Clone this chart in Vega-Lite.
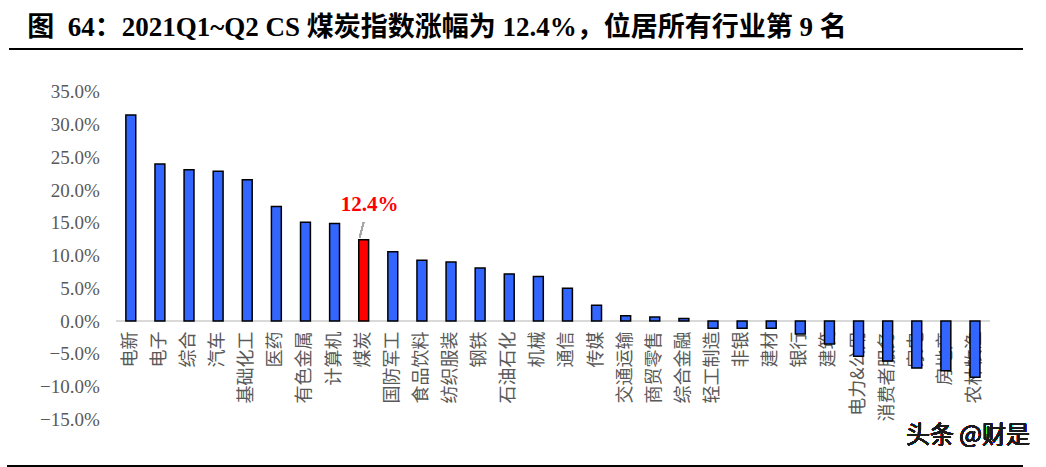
{
  "$schema": "https://vega.github.io/schema/vega-lite/v6.json",
  "width": 873.3,
  "height": 417,
  "autosize": "none",
  "padding": {"left": 116.25, "top": 49, "right": 56.45, "bottom": 1},
  "background": "white",
  "config": {
    "view": {"stroke": null},
    "axis": {"grid": false, "ticks": false, "domain": false}
  },
  "title": {
    "text": "图\u00a0\u00a064：2021Q1~Q2 CS 煤炭指数涨幅为 12.4%，位居所有行业第 9 名",
    "anchor": "start",
    "frame": "group",
    "dx": -89,
    "offset": -15,
    "baseline": "alphabetic",
    "font": "Liberation Serif, Noto Sans CJK SC",
    "fontSize": 27,
    "fontWeight": "bold",
    "color": "#000000"
  },
  "data": {
    "values": [
      {"industry": "电新", "value": 31.5},
      {"industry": "电子", "value": 24.0},
      {"industry": "综合", "value": 23.1},
      {"industry": "汽车", "value": 22.9},
      {"industry": "基础化工", "value": 21.6},
      {"industry": "医药", "value": 17.5},
      {"industry": "有色金属", "value": 15.1},
      {"industry": "计算机", "value": 14.9},
      {"industry": "煤炭", "value": 12.4},
      {"industry": "国防军工", "value": 10.6},
      {"industry": "食品饮料", "value": 9.3},
      {"industry": "纺织服装", "value": 9.0},
      {"industry": "钢铁", "value": 8.1},
      {"industry": "石油石化", "value": 7.2},
      {"industry": "机械", "value": 6.8},
      {"industry": "通信", "value": 5.0},
      {"industry": "传媒", "value": 2.4},
      {"industry": "交通运输", "value": 0.8},
      {"industry": "商贸零售", "value": 0.6},
      {"industry": "综合金融", "value": 0.4},
      {"industry": "轻工制造", "value": -1.1},
      {"industry": "非银", "value": -1.1},
      {"industry": "建材", "value": -1.1},
      {"industry": "银行", "value": -2.0},
      {"industry": "建筑", "value": -3.5},
      {"industry": "电力&公用", "value": -5.4},
      {"industry": "消费者服务", "value": -6.1},
      {"industry": "家电", "value": -7.2},
      {"industry": "房地产", "value": -7.6},
      {"industry": "农林牧渔", "value": -8.6}
    ]
  },
  "encoding": {
    "x": {
      "field": "industry",
      "type": "nominal",
      "sort": null,
      "scale": {
        "domain": ["电新", "电子", "综合", "汽车", "基础化工", "医药", "有色金属", "计算机", "煤炭", "国防军工", "食品饮料", "纺织服装", "钢铁", "石油石化", "机械", "通信", "传媒", "交通运输", "商贸零售", "综合金融", "轻工制造", "非银", "建材", "银行", "建筑", "电力&公用", "消费者服务", "家电", "房地产", "农林牧渔"],
        "paddingInner": 0.66,
        "paddingOuter": 0.33,
        "align": 0.5
      },
      "axis": {
        "title": null,
        "labelAngle": -90,
        "labelPadding": 10,
        "offset": -145,
        "labelFont": "Noto Sans CJK SC",
        "labelFontSize": 18,
        "labelColor": "#595959"
      }
    },
    "y": {
      "field": "value",
      "type": "quantitative",
      "scale": {"domain": [-22.16, 41.57], "nice": false, "zero": false},
      "axis": {
        "title": null,
        "values": [-15, -10, -5, 0, 5, 10, 15, 20, 25, 30, 35],
        "labelExpr": "format(datum.value, '.1f') + '%'",
        "labelPadding": 17,
        "labelFont": "Liberation Serif",
        "labelFontSize": 19,
        "labelColor": "#595959"
      }
    }
  },
  "layer": [
    {
      "mark": {"type": "rule", "color": "#D9D9D9", "strokeWidth": 1.5},
      "encoding": {
        "x": {"datum": "电新", "bandPosition": -0.92},
        "x2": {"datum": "农林牧渔", "bandPosition": 2.02},
        "y": {"datum": 0},
        "y2": null
      }
    },
    {
      "mark": {"type": "bar", "stroke": "#000000", "strokeWidth": 1.5},
      "encoding": {
        "color": {
          "condition": {"test": "datum.industry === '煤炭'", "value": "#FF0000"},
          "value": "#3366FF"
        }
      }
    },
    {
      "transform": [
        {"filter": "datum.industry === '煤炭'"},
        {"calculate": "format(datum.value, '.1f') + '%'", "as": "label"}
      ],
      "mark": {
        "type": "text",
        "color": "#FF0000",
        "font": "Liberation Serif",
        "fontSize": 21,
        "fontWeight": "bold",
        "dx": 6,
        "dy": -35
      },
      "encoding": {"text": {"field": "label"}}
    },
    {
      "mark": {"type": "rule", "color": "#A6A6A6", "strokeWidth": 1.3},
      "encoding": {
        "x": {"datum": "煤炭"},
        "x2": {"datum": "煤炭"},
        "xOffset": {"value": 1},
        "x2Offset": {"value": 8},
        "y": {"datum": 12.8},
        "y2": {"datum": 15.1}
      }
    },
    {
      "mark": {"type": "rule", "color": "#000000", "strokeWidth": 2.2},
      "encoding": {
        "x": {"datum": "电新", "bandPosition": -11.8},
        "x2": {"datum": "农林牧渔", "bandPosition": 5.35},
        "y": {"datum": 41.57},
        "y2": null
      }
    },
    {
      "mark": {"type": "rule", "color": "#000000", "strokeWidth": 1.4},
      "encoding": {
        "x": {"datum": "电新", "bandPosition": -12.0},
        "x2": {"datum": "农林牧渔", "bandPosition": 5.35},
        "y": {"datum": -22.16},
        "y2": null
      }
    },
    {
      "mark": {
        "type": "text",
        "text": "头条 @财是",
        "align": "right",
        "baseline": "middle",
        "font": "Noto Sans CJK SC",
        "fontSize": 24,
        "color": "#1a1a1a",
        "dx": 55
      },
      "encoding": {"x": {"datum": "农林牧渔"}, "y": {"datum": -17.6}}
    }
  ]
}
